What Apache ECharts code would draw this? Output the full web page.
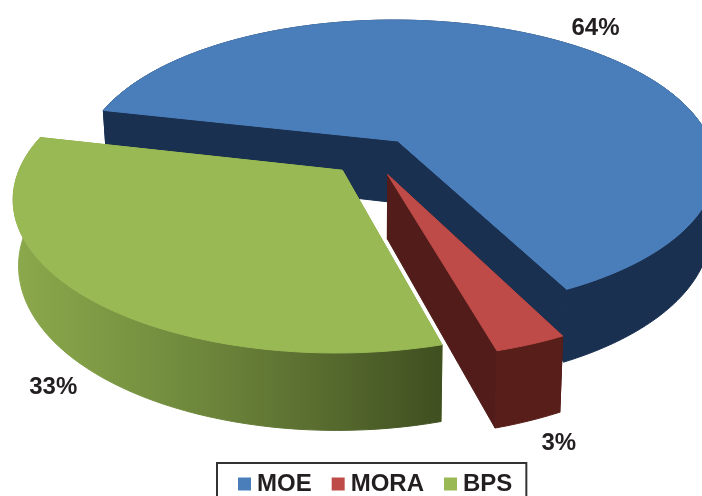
<!DOCTYPE html>
<html>
<head>
<meta charset="utf-8">
<style>html,body{margin:0;padding:0;background:#fff;overflow:hidden}#c{width:702px;height:496px}</style>
<script src="https://cdn.jsdelivr.net/npm/echarts@6/dist/echarts.min.js"></script>
</head>
<body>
<div id="c"></div>
<script>
var categories = ['MOE', 'MORA', 'BPS'];
var shares = [64, 3, 33];
var topColors = ['#4a7ebb', '#be4b48', '#98b954'];
var cutWallColors = ['#1a3050', '#511c19', '#8aa84c'];
var labelShift = [[30, -15], [28, 99], [-30, 92]];

var view = {cx: 372, cy: 156, rx: 318, ry: 146.2, persp: 0.17, depth: 63, explode: 0.133, startDeg: 167};
var total = shares.reduce(function (a, b) { return a + b; }, 0);

function project(X, Y, down) {
  var w = 1 + view.persp * Y;
  var sx = view.cx + view.rx * X / w;
  var sy = view.cy - view.ry * Y / w;
  if (down) {
    sx += (view.cx - sx) * 0.015;
    sy += view.depth / w;
  }
  return [sx, sy];
}

function sliceGeometry(index) {
  var before = 0;
  for (var i = 0; i < index; i++) before += shares[i];
  var a0 = view.startDeg - before / total * 360;
  var a1 = a0 - shares[index] / total * 360;
  var mid = (a0 + a1) / 2 * Math.PI / 180;
  var ox = view.explode * Math.cos(mid), oy = view.explode * Math.sin(mid);
  var arc = [];
  var n = Math.max(4, Math.ceil((a0 - a1) / 2));
  for (var k = 0; k <= n; k++) {
    var t = (a0 + (a1 - a0) * k / n) * Math.PI / 180;
    arc.push([ox + Math.cos(t), oy + Math.sin(t)]);
  }
  return {arc: arc, apex: [ox, oy], mid: mid, ox: ox, oy: oy};
}

function strip(pts, fill) {
  var top = pts.map(function (p) { return project(p[0], p[1], false); });
  var bottom = pts.map(function (p) { return project(p[0], p[1], true); }).reverse();
  return {type: 'polygon', shape: {points: top.concat(bottom)}, style: {fill: fill, stroke: fill, lineWidth: 1}};
}

function outerFill(index) {
  if (index === 2) {
    return new echarts.graphic.LinearGradient(0, 0, 1, 0, [
      {offset: 0, color: '#8ca94c'}, {offset: 0.35, color: '#748f3f'},
      {offset: 0.7, color: '#5a6e30'}, {offset: 1, color: '#3f4f20'}
    ]);
  }
  return index === 1 ? '#571e1a' : cutWallColors[0];
}

function renderSlice(index) {
  return function (params, api) {
    var value = api.value(0);
    var g = sliceGeometry(index);
    var children = [];
    children.push(strip([g.arc[0], g.apex], cutWallColors[index]));
    children.push(strip([g.apex, g.arc[g.arc.length - 1]], cutWallColors[index]));
    children.push(strip(g.arc, outerFill(index)));
    var face = [g.apex].concat(g.arc).map(function (p) { return project(p[0], p[1], false); });
    children.push({type: 'polygon', shape: {points: face}, style: {fill: topColors[index], stroke: topColors[index], lineWidth: 1}});
    var anchor = project(g.ox + Math.cos(g.mid), g.oy + Math.sin(g.mid), false);
    children.push({
      type: 'text', z2: 10,
      style: {
        x: anchor[0] + labelShift[index][0], y: anchor[1] + labelShift[index][1],
        text: value + '%', fill: '#231f20', align: 'center', verticalAlign: 'middle',
        font: 'bold 24px "Liberation Sans", Arial, sans-serif'
      }
    });
    return {type: 'group', children: children};
  };
}

var chart = echarts.init(document.getElementById('c'), null, {renderer: 'canvas'});
chart.setOption({
  animation: false,
  backgroundColor: '#fff',
  legend: {
    data: categories,
    left: 217, top: 463,
    icon: 'rect', itemWidth: 13, itemHeight: 13, itemGap: 20,
    padding: [9, 14, 12, 21],
    borderColor: '#333', borderWidth: 2,
    selectedMode: false,
    textStyle: {fontFamily: '"Liberation Sans", Arial, sans-serif', fontWeight: 'bold', fontSize: 24, color: '#231f20', padding: [0, 0, 0, 1]}
  },
  series: categories.map(function (name, i) {
    return {
      type: 'custom', name: name, coordinateSystem: 'none',
      silent: true, clip: false,
      itemStyle: {color: topColors[i]},
      data: [[shares[i]]],
      renderItem: renderSlice(i)
    };
  })
});
</script>
</body>
</html>
